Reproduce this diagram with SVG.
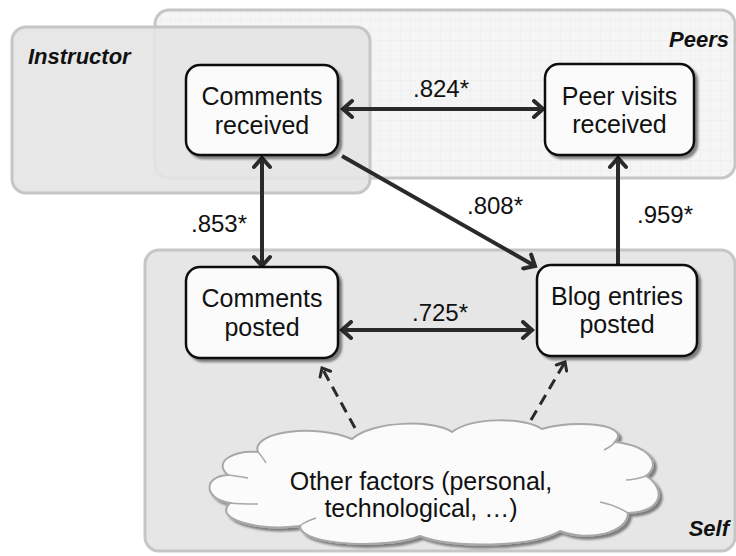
<svg xmlns="http://www.w3.org/2000/svg" width="736" height="556" viewBox="0 0 736 556">
  <defs>
    <style>
      text { font-family: "Liberation Sans", Arial, Helvetica, sans-serif; fill: #111; }
      .region-label { font-size: 22px; font-weight: bold; font-style: italic; }
      .node-text { font-size: 25px; text-anchor: middle; }
      .edge-label { font-size: 24px; text-anchor: middle; }
      .region { stroke: #c6c6c6; stroke-width: 3; }
      .box { fill: #fbfbfb; stroke: #111; stroke-width: 2.5; filter: url(#shadow); }
      .conn { fill: none; stroke: #2a2a2a; stroke-width: 4; }
      .dashed { fill: none; stroke: #2a2a2a; stroke-width: 3; stroke-dasharray: 11 7; }
    </style>
    <pattern id="grid" width="10" height="10" patternUnits="userSpaceOnUse">
      <rect width="10" height="10" fill="#f5f5f5"/>
      <path d="M10,0 L0,0 L0,10" fill="none" stroke="#ebebeb" stroke-width="1"/>
    </pattern>
    <filter id="shadow" x="-10%" y="-10%" width="130%" height="130%">
      <feDropShadow dx="3" dy="3" stdDeviation="1.2" flood-color="#000" flood-opacity="0.45"/>
    </filter>
    <marker id="arrow" markerUnits="userSpaceOnUse" markerWidth="20" markerHeight="20" viewBox="0 0 20 20" refX="14" refY="10" orient="auto-start-reverse">
      <path d="M5,2 L14,10 L5,18" fill="none" stroke="#2a2a2a" stroke-width="4" stroke-linecap="round" stroke-linejoin="miter"/>
    </marker>
    <marker id="arrow-small" markerUnits="userSpaceOnUse" markerWidth="16" markerHeight="16" viewBox="0 0 16 16" refX="11" refY="8" orient="auto">
      <path d="M4,2 L11,8 L4,14" fill="none" stroke="#2a2a2a" stroke-width="3" stroke-linecap="round"/>
    </marker>
  </defs>

  <rect width="736" height="556" fill="#ffffff"/>

  <!-- Regions -->
  <g id="region-peers">
    <rect class="region" x="155" y="10" width="580" height="168" rx="14" fill="url(#grid)"/>
    <text class="region-label" x="729" y="47" text-anchor="end">Peers</text>
  </g>
  <g id="region-instructor">
    <rect class="region" x="12" y="27" width="358" height="166" rx="14" fill="#e4e4e4" fill-opacity="0.9"/>
    <text class="region-label" x="28" y="64">Instructor</text>
  </g>
  <g id="region-self">
    <rect class="region" x="145" y="250" width="590" height="301" rx="14" fill="#e6e6e6"/>
    <text class="region-label" x="729" y="536" text-anchor="end">Self</text>
  </g>

  <!-- Connectors -->
  <g id="connectors">
    <line class="conn" x1="343" y1="109" x2="543" y2="109" marker-start="url(#arrow)" marker-end="url(#arrow)"/>
    <line class="conn" x1="262" y1="158" x2="262" y2="266" marker-start="url(#arrow)" marker-end="url(#arrow)"/>
    <line class="conn" x1="342" y1="156" x2="535" y2="266" marker-end="url(#arrow)"/>
    <line class="conn" x1="618" y1="265" x2="618" y2="158" marker-end="url(#arrow)"/>
    <line class="conn" x1="342" y1="330" x2="532" y2="330" marker-start="url(#arrow)" marker-end="url(#arrow)"/>
    <line class="dashed" x1="355" y1="428" x2="322" y2="368" marker-end="url(#arrow-small)"/>
    <line class="dashed" x1="531" y1="420" x2="565" y2="362" marker-end="url(#arrow-small)"/>
    <text class="edge-label" x="441" y="97">.824*</text>
    <text class="edge-label" x="219" y="232">.853*</text>
    <text class="edge-label" x="495" y="214">.808*</text>
    <text class="edge-label" x="665" y="223">.959*</text>
    <text class="edge-label" x="440" y="321">.725*</text>
  </g>

  <!-- Nodes -->
  <g id="node-comments-received">
    <rect class="box" x="186" y="65" width="152" height="90" rx="14"/>
    <text class="node-text" x="262" y="105">Comments</text>
    <text class="node-text" x="262" y="134">received</text>
  </g>
  <g id="node-peer-visits">
    <rect class="box" x="545" y="64" width="149" height="91" rx="14"/>
    <text class="node-text" x="619.5" y="105">Peer visits</text>
    <text class="node-text" x="619.5" y="133">received</text>
  </g>
  <g id="node-comments-posted">
    <rect class="box" x="186" y="267" width="152" height="91" rx="14"/>
    <text class="node-text" x="262" y="307">Comments</text>
    <text class="node-text" x="262" y="336">posted</text>
  </g>
  <g id="node-blog-entries">
    <rect class="box" x="537" y="265" width="160" height="91" rx="14"/>
    <text class="node-text" x="617" y="305">Blog entries</text>
    <text class="node-text" x="617" y="333">posted</text>
  </g>
  <g id="node-other-factors">
    <path d="M258,452 C250,432 315,423 352,439 C372,421 432,419 452,432 C472,417 522,417 542,429 C575,419 632,424 615,442 C650,446 662,464 646,476 C666,488 664,512 628,513 C628,533 588,542 560,531 C530,548 452,548 420,536 C390,549 300,546 300,526 C260,531 212,520 230,503 C203,499 203,476 228,475 C212,461 235,450 258,452 Z" fill="#fbfbfb" stroke="#a8a8a8" stroke-width="2" filter="url(#shadow)"/>
    <path d="M258,452 C262,456 264,460 266,463 M228,475 C236,476 242,477 248,478 M230,503 C240,504 250,504 258,504 M615,442 C612,446 608,448 604,450 M646,476 C640,478 632,480 626,480 M628,513 C620,508 610,504 600,502 M300,526 C304,522 310,520 316,518" fill="none" stroke="#a8a8a8" stroke-width="1.5"/>
    <text class="node-text" x="421" y="490">Other factors (personal,</text>
    <text class="node-text" x="421" y="517">technological, …)</text>
  </g>
</svg>
